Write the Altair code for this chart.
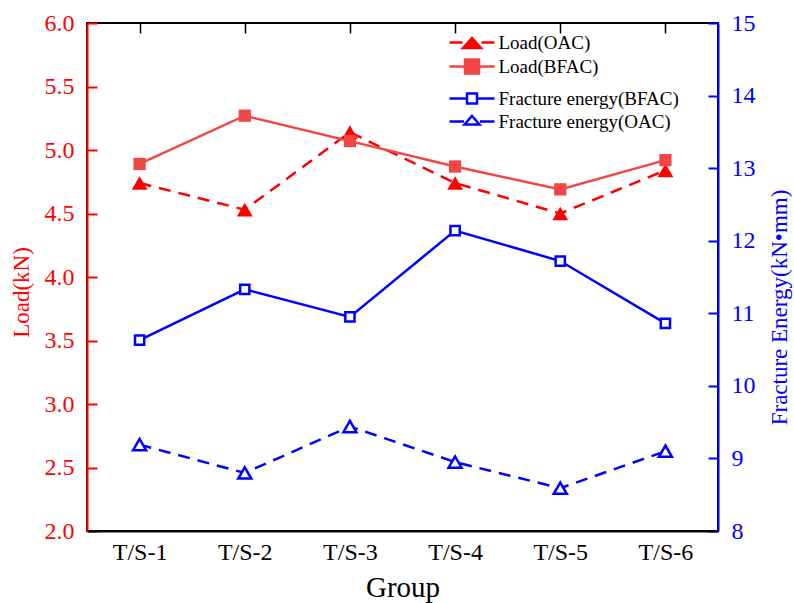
import altair as alt
import pandas as pd

# ---- data ----
groups = ["T/S-1", "T/S-2", "T/S-3", "T/S-4", "T/S-5", "T/S-6"]
load_names = ["Load(OAC)", "Load(BFAC)"]
energy_names = ["Fracture energy(BFAC)", "Fracture energy(OAC)"]

load_oac = [4.74, 4.53, 5.14, 4.74, 4.50, 4.84]
load_bfac = [4.89, 5.27, 5.07, 4.87, 4.69, 4.92]
fe_bfac = [10.63, 11.33, 10.95, 12.14, 11.72, 10.86]
fe_oac = [9.19, 8.80, 9.44, 8.95, 8.59, 9.10]

load_ticks = [2.0, 2.5, 3.0, 3.5, 4.0, 4.5, 5.0, 5.5, 6.0]
energy_ticks = [8, 9, 10, 11, 12, 13, 14, 15]

red_df = pd.DataFrame({
    "group": groups * 2,
    "series": [load_names[0]] * 6 + [load_names[1]] * 6,
    "value": load_oac + load_bfac,
})
blue_df = pd.DataFrame({
    "group": groups * 2,
    "series": [energy_names[0]] * 6 + [energy_names[1]] * 6,
    "value": fe_bfac + fe_oac,
})

FONT = "Liberation Serif"
RED = "#FF0000"
RED2 = "#F04646"
BLUE = "#0000FF"

x_enc = alt.X(
    "group:N",
    sort=groups,
    scale=alt.Scale(type="point", domain=groups, padding=0.5),
    axis=alt.Axis(
        title="Group", orient="bottom", labelAngle=0,
        labelFont=FONT, labelFontSize=24, labelColor="black", labelPadding=9,
        titleFont=FONT, titleFontSize=29, titleFontWeight="normal",
        titleColor="black", titlePadding=9,
        domainColor="black", domainWidth=2, ticks=False, tickSize=0,
        grid=True, gridColor="black", gridWidth=1.5, gridDash=[10, 2000],
    ),
)

y_red = alt.Y(
    "value:Q",
    scale=alt.Scale(domain=[2, 6], nice=False, zero=False),
    axis=alt.Axis(
        orient="left", title="Load(kN)", values=load_ticks, format=".1f",
        labelFont=FONT, labelFontSize=24, labelColor=RED, labelPadding=13,
        titleFont=FONT, titleFontSize=23, titleFontWeight="normal",
        titleColor=RED, titlePadding=11, titleY=269,
        domainColor=RED, domainWidth=2, ticks=False, tickSize=0,
        grid=True, gridColor=RED, gridWidth=2, gridDash=[10, 2000],
    ),
)

y_blue = alt.Y(
    "value:Q",
    scale=alt.Scale(domain=[8, 15], nice=False, zero=False),
    axis=alt.Axis(
        orient="right", title="Fracture Energy(kN•mm)", values=energy_ticks, format="d",
        labelFont=FONT, labelFontSize=24, labelColor=BLUE, labelPadding=13,
        titleFont=FONT, titleFontSize=23, titleFontWeight="normal",
        titleColor=BLUE, titlePadding=36, titleAngle=270, titleY=284,
        domainColor=BLUE, domainWidth=2, ticks=False, tickSize=0,
        grid=True, gridColor=BLUE, gridWidth=2, gridDash=[10, 2000],
    ),
)


def legend(ly):
    return alt.Legend(
        title=None, orient="none", legendX=361, legendY=ly, padding=0,
        symbolSize=400, symbolOffset=12.5, labelOffset=15,
        labelFont=FONT, labelFontSize=19, labelColor="black", labelLimit=400,
        symbolStrokeWidth=2.5, symbolOpacity=1, rowPadding=1,
    )


def filtered(df, name):
    return alt.Chart(df).transform_filter(alt.datum.series == name)


# ---- red (load) group ----
red_paths = [
    "M-2.25,0H-0.95M0.95,0H2.25M0,-0.45L0.9,0.55L-0.9,0.55Z",
    "M-2.25,0H-0.7M0.7,0H2.25M-0.7,-0.7H0.7V0.7H-0.7Z",
]
red_leg = legend(8)
red_layer = alt.layer(
    filtered(red_df, load_names[0]).mark_line(color=RED, strokeWidth=2.5, strokeDash=[12, 8]).encode(x=x_enc, y=y_red),
    filtered(red_df, load_names[1]).mark_line(color=RED2, strokeWidth=2.5).encode(x=x_enc, y=y_red),
    filtered(red_df, load_names[0]).mark_point(shape="triangle-up", filled=True, size=250, color=RED, opacity=1).encode(x=x_enc, y=y_red),
    filtered(red_df, load_names[1]).mark_point(shape="square", filled=True, size=150, color=RED2, opacity=1).encode(x=x_enc, y=y_red),
    alt.Chart(red_df).mark_point(opacity=0, size=400, strokeWidth=2.5).encode(
        x=x_enc, y=y_red,
        shape=alt.Shape("series:N", scale=alt.Scale(domain=load_names, range=red_paths), legend=red_leg),
        fill=alt.Fill("series:N", scale=alt.Scale(domain=load_names, range=[RED, RED2]), legend=red_leg),
        stroke=alt.Stroke("series:N", scale=alt.Scale(domain=load_names, range=[RED, RED2]), legend=red_leg),
    ),
)

# ---- blue (fracture energy) group ----
blue_paths = [
    "M-2.25,0H-0.55M0.55,0H2.25M-0.5,-0.5H0.5V0.5H-0.5Z",
    "M-2.25,0H-0.8M0.8,0H2.25M0,-0.55L0.75,0.3L-0.75,0.3Z",
]
blue_leg = legend(64)
blue_layer = alt.layer(
    filtered(blue_df, energy_names[0]).mark_line(color=BLUE, strokeWidth=2.5).encode(x=x_enc, y=y_blue),
    filtered(blue_df, energy_names[1]).mark_line(color=BLUE, strokeWidth=2.5, strokeDash=[12, 8]).encode(x=x_enc, y=y_blue),
    filtered(blue_df, energy_names[0]).mark_point(shape="square", filled=False, fill="white", size=85, color=BLUE, strokeWidth=2.5, opacity=1).encode(x=x_enc, y=y_blue),
    filtered(blue_df, energy_names[1]).mark_point(shape="triangle-up", filled=False, fill="white", size=170, color=BLUE, strokeWidth=2.5, opacity=1).encode(x=x_enc, y=y_blue),
    alt.Chart(blue_df).mark_point(opacity=0, size=400, strokeWidth=2.5).encode(
        x=x_enc, y=y_blue,
        shape=alt.Shape("series:N", scale=alt.Scale(domain=energy_names, range=blue_paths), legend=blue_leg),
        fill=alt.Fill("series:N", scale=alt.Scale(domain=energy_names, range=["white", "white"]), legend=blue_leg),
        stroke=alt.Stroke("series:N", scale=alt.Scale(domain=energy_names, range=[BLUE, BLUE]), legend=blue_leg),
    ),
)

chart = (
    alt.layer(red_layer, blue_layer)
    .resolve_scale(y="independent", shape="independent", fill="independent", stroke="independent")
    .properties(
        width=631, height=508,
        autosize=alt.AutoSizeParams(type="none"),
        padding={"left": 87, "top": 23, "right": 76, "bottom": 72},
        background="white",
    )
    .configure_view(stroke="black", strokeWidth=2)
    .configure_legend(symbolOpacity=1)
)

chart.save("out.html", embed_options={"renderer": "svg", "actions": False})
